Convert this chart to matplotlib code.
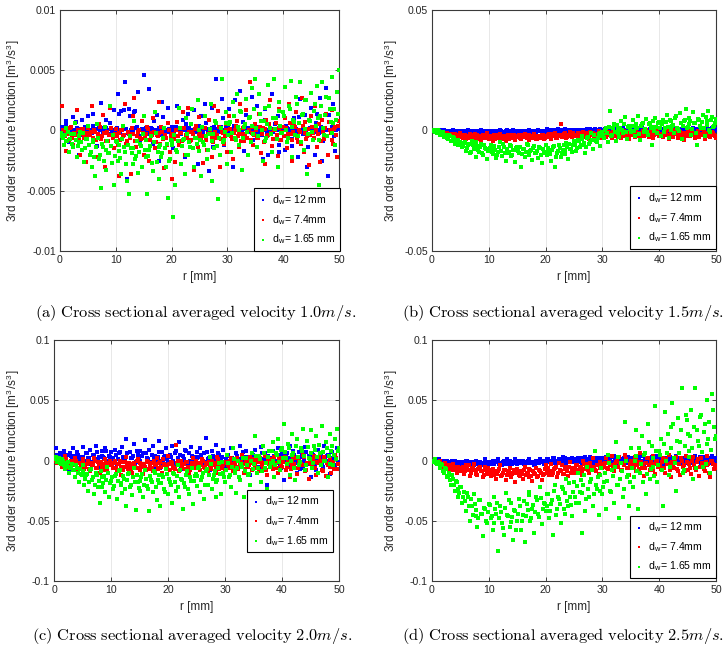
import numpy as np
import matplotlib.pyplot as plt

plt.rcParams["font.family"] = ["Liberation Sans", "DejaVu Sans"]
plt.rcParams["mathtext.fontset"] = "cm"

# ==========================
# DATA
# two sample sets per series, interleaved on a 1/6 mm grid
# ==========================
r_mm = np.arange(1, 151) / 3.0
r_mm2 = (np.arange(1, 151) - 0.5) / 3.0

# (a) 1.0 m/s, values in 1e-4 m^3/s^3
a_12 = [3, -2, 8, 1, -10, 0, 11, -1, 2, -20, 1, 9, -3, 0, 12,
        0, -2, 14, 1, -13, 3, 23, -1, 0, 2, -19, 6, -1, 17, 0,
        30, -2, 16, 1, 40, -40, 18, 0, -3, 15, 2, 32, -8, 1, 46,
        0, -2, 34, 2, -11, 0, 13, -25, 1, 24, -2, 0, 19, -1, 3,
        -15, 1, 20, 0, -3, 9, -22, 2, 14, 0, -1, 17, 2, -28, 0,
        12, -2, 22, 1, -34, 0, 19, 3, 43, -1, 0, 26, -12, 2, -3,
        18, 0, -30, 25, 1, -2, 33, 0, -17, 13, 2, -1, 28, -8, 0,
        20, -3, 1, -24, 18, 0, -20, 2, 30, -54, 1, 12, -18, 0, 15,
        -16, 2, 22, 0, -13, 10, 1, -22, 26, 0, -2, 13, -30, 1, 19,
        2, -20, 14, 0, 27, -25, 1, 35, -38, 0, 3, 22, -17, 1, 8]
a_12_2 = [1, -1, 0, 5, -3, 2, -1, 0, 7, -2, 1, -4, 0, 3, -1,
          -2, 0, 4, -1, 1, -6, 0, 2, -1, 9, 0, -3, 1, 0, -2,
          2, 14, -1, 0, 17, 1, -2, 12, 0, -1, 16, 3, -5, 0, 1,
          -1, 2, 0, -3, 1, 8, -1, 0, 2, -4, 11, 0, -1, 1, -2,
          1, -1, 3, 0, -2, 1, 0, 5, -1, 2, -8, 0, 1, -1, 4,
          0, -3, 1, 6, -1, 0, 2, -14, 1, 0, -1, 3, 10, 0, -2,
          2, -1, 0, 4, -6, 1, 0, -2, 7, 1, -1, 0, -9, 2, 1,
          -1, 3, 0, -4, 1, 9, -2, 0, 1, -1, 5, 0, -12, 2, -1,
          0, 4, -2, 1, -7, 0, 2, -1, 11, 0, -3, 1, 0, -14, 2,
          1, -1, 6, 0, -2, 3, -9, 1, 0, 13, -1, 2, -5, 0, 1]
a_74 = [20, -5, -17, 0, -8, 3, -12, -2, 17, -4, -20, 1, -6, -26, 2,
        -3, 20, -10, -1, -22, 5, -7, 13, -30, -2, -9, 19, -4, -15, 1,
        -12, -38, 0, -5, 22, -9, -3, -36, 12, 27, -14, -1, -6, 8, -20,
        -8, 3, -25, -2, 10, -15, -4, 24, -11, -1, -31, -6, 6, -18, -40,
        -3, -26, 7, -12, -2, 15, -20, -5, 19, -9, -1, -33, 4, -14, 11,
        -7, -27, 2, -16, 9, -3, -22, 20, -6, 16, -30, -1, -11, 5, -18,
        12, -5, -24, 0, 8, -14, 22, -3, -9, 17, -20, 40, -2, -12, 5,
        -6, 14, -19, 2, -28, 9, -4, 25, -13, 0, 6, -21, 18, -8, 3,
        10, -15, 22, -3, -25, 4, 15, -10, -1, 27, -18, 7, -5, -29, 12,
        -2, 20, -14, 5, -26, 9, -7, 14, -20, 0, 17, -11, 3, -22, 8]
a_74_2 = [-2, 0, -5, -1, -3, 2, -6, -2, -4, 0, -7, -3, 1, -5, -2,
          -4, -1, -6, 0, -8, -3, 3, -5, -2, -9, -1, -4, 2, -6, -3,
          -5, -2, -8, 0, -4, -11, -1, -6, 2, -3, -9, -5, 0, -7, -2,
          -6, -3, 1, -8, -4, -1, -10, -5, -2, 3, -7, -4, -12, 0, -5,
          -3, -7, 0, -5, -2, -9, 2, -4, -6, -1, -8, -3, 1, -6, -4,
          -2, -5, 2, -8, -3, 0, -6, -10, -1, -4, 3, -7, -2, -5, 0,
          -4, 1, -7, -2, 4, -5, -1, -9, 2, -3, -6, 0, -8, 3, -4,
          0, -6, 3, -3, -10, 1, -5, 5, -2, -7, 0, -4, 2, -8, -1,
          -5, 2, -3, 6, -8, -1, 3, -6, 0, -11, 4, -2, -7, 1, -4,
          3, -6, 0, -3, 5, -9, -1, 2, -5, 7, -2, -8, 1, -4, 4]
a_165 = [-5, -12, 2, -9, -18, -3, -14, 6, -22, -10, -1, -16, -26, -7, 4,
         -20, -30, -10, -38, 5, -24, -48, -14, 3, -33, -19, 20, -27, -45, -9,
         -25, -12, -36, 4, -18, -42, -53, -15, -28, 8, -21, -35, -11, -30, 12,
         -22, -53, -16, -5, -34, 15, -26, -40, -12, -19, 2, -30, -56, -24, -9,
         -72, -45, -18, 19, -28, -8, -36, 10, -20, -14, 18, -30, -6, 25, -17,
         -38, -10, 12, -24, -3, 22, -42, -15, 6, -57, -20, 43, -8, 15, -28,
         5, -18, 24, -6, 30, -12, 16, -33, 3, 26, -20, 11, 35, -3, 43,
         -14, 30, 8, -25, 19, -6, 38, 2, -18, 43, 10, -30, 24, -2, 15,
         36, -10, 20, 41, -22, 7, 28, -5, 40, 13, -16, 25, -36, 9, 31,
         -8, 22, 37, -45, 12, 40, -4, 28, -50, 18, 44, 6, -12, 32, 50]
a_165_2 = [-2, -6, -4, -9, -1, -7, -11, -3, -8, -13, -5, -10, -2, -15, -7,
           -12, -18, -8, -22, -14, -6, -20, -11, -25, -16, -9, -19, -13, -4, -21,
           -10, -17, -23, -7, -14, -28, -12, -5, -19, -15, -24, -9, -18, -13, -3,
           -16, -8, -21, -13, -27, -10, -2, -18, -14, -22, -6, -15, -11, -25, -8,
           -12, -4, -16, -9, 2, -13, -7, -20, -3, -10, 5, -15, -6, -11, 0,
           -8, 3, -12, -5, -16, 1, -9, -3, 8, -13, -6, 2, -10, -1, 6,
           -4, 7, -2, 12, -8, 3, 0, 15, -6, 5, -1, 10, -10, 4, 18,
           2, -5, 14, 0, 8, -9, 5, 20, -3, 10, 1, -7, 16, 4, -2,
           12, 0, -6, 18, 3, 9, -4, 22, 6, -10, 14, 1, 25, -3, 8,
           -1, 16, 4, 10, -8, 20, 2, 13, -5, 27, 7, -2, 18, 9, 14]

# (b) 1.5 m/s, values in 1e-4 m^3/s^3
b_12 = [0, -2, 3, -4, 1, -6, -2, -8, -3, -5, 2, -7, -4, -1, -9,
        -5, -3, -8, 0, -6, -10, -4, -2, -7, -5, 1, -9, -3, -6, -4,
        -7, -2, -5, -10, -3, 2, -6, -8, -4, -1, -9, -5, 3, -7, -3,
        -4, -8, -1, -6, -3, 1, -9, -5, -2, -7, 0, -4, -8, -2, -5,
        4, -3, -1, 2, -5, 0, 3, -4, -2, 6, -1, -6, 1, -3, 2,
        -2, 3, 0, -5, 2, -1, 5, -3, 1, -4, 4, 0, -2, 6, -1,
        2, -3, 7, 0, -5, 3, -1, 5, -4, 1, 8, -2, 3, -6, 0,
        4, -2, 6, -5, 1, 8, -3, 2, -7, 5, 0, -4, 7, -1, 3,
        -3, 6, 1, -8, 4, 0, 9, -2, 5, -6, 2, 7, -4, 1, -9,
        5, -2, 8, 0, -6, 3, 10, -4, 1, 6, -8, 2, 9, -3, 4]
b_12_2 = [-1, 0, -3, 1, -2, -4, 0, -3, -6, -1, -4, -2, -7, -3, -5,
          -3, -7, -2, -5, -8, -1, -4, -6, -3, -9, -2, -5, -7, -4, -1,
          -5, -3, -8, -1, -6, -4, -2, -7, -5, 0, -6, -3, -8, -4, -2,
          -6, -1, -4, -7, -3, -5, 0, -6, -3, -8, -2, -4, -1, -5, -3,
          -1, 2, -3, 0, 1, -2, 4, -1, 0, -4, 2, 0, -2, 3, -1,
          1, -2, 0, 3, -1, 2, -3, 0, 4, -2, 1, -1, 3, 0, -2,
          0, 4, -1, 2, -3, 1, 5, -2, 0, 3, -4, 1, -1, 4, -2,
          1, -3, 2, 5, -1, 0, -4, 3, 1, -2, 6, 0, -3, 2, -1,
          3, -1, 0, 5, -4, 2, -2, 6, 0, -3, 1, 4, -5, 2, 0,
          -1, 4, 1, -3, 6, 0, -2, 3, -5, 2, 0, 7, -1, -4, 3]
b_74 = [-2, -5, -1, -8, -12, -6, -18, -10, -22, -14, -25, -16, -30, -20, -12,
        -28, -18, -35, -22, -14, -40, -25, -32, -17, -27, -38, -20, -30, -12, -34,
        -24, -42, -19, -31, -26, -15, -36, -28, -44, -21, -33, -18, -29, -38, -25,
        -20, -35, -27, -14, -32, -40, -22, -29, -16, -37, -25, -30, -18, -34, -23,
        -28, -15, -36, -22, -10, -31, -19, 25, -26, -12, -33, -20, -8, -29, -17,
        -24, -11, -30, -18, -5, -26, -14, -35, -20, -9, -28, -16, -3, -32, -21,
        -13, -27, -6, -20, -33, -10, -24, 2, -17, -30, -8, -22, -14, -36, -4,
        -19, -28, -7, -15, -34, -11, -23, 0, -18, -26, -9, -31, -13, -5, -22,
        -16, -29, -4, -20, -35, -10, -25, 3, -14, -30, -8, -21, -38, -12, -2,
        -24, -7, -18, -32, -11, -27, 4, -15, -36, -9, -20, -28, -5, -17, -30]
b_74_2 = [-1, -3, -6, -4, -9, -7, -13, -10, -16, -19, -14, -22, -18, -26, -21,
          -24, -30, -19, -26, -33, -21, -28, -16, -31, -25, -35, -22, -27, -18, -29,
          -32, -23, -27, -36, -20, -30, -25, -33, -22, -28, -34, -24, -31, -19, -27,
          -26, -31, -20, -28, -24, -33, -18, -27, -30, -22, -35, -25, -29, -21, -32,
          -24, -20, -29, -16, -25, -31, -22, -18, -27, -14, -23, -28, -19, -25, -12,
          -18, -22, -9, -26, -15, -20, -12, -24, -7, -19, -25, -13, -17, -10, -23,
          -16, -8, -21, -12, -25, -5, -18, -14, -27, -10, -19, -3, -15, -22, -11,
          -20, -6, -14, -24, -10, -17, -2, -21, -13, -28, -8, -16, -19, -4, -12,
          -18, -25, -9, -14, 0, -21, -12, -27, -7, -16, -3, -20, -11, -24, -15,
          -10, -22, -6, -17, -26, -2, -13, -19, -8, -23, -14, 1, -18, -11, -25]
b_165 = [2, -3, 0, -8, -15, -5, -22, -30, -18, -45, -28, -55, -38, -62, -48,
         -70, -52, -85, -60, -95, -45, -78, -110, -65, -90, -55, -100, -72, -120, -82,
         -60, -98, -75, -115, -88, -50, -105, -70, -125, -92, -62, -108, -80, -130, -68,
         -95, -150, -78, -110, -58, -100, -85, -122, -66, -92, -115, -74, -135, -88, -60,
         -104, -82, -128, -70, -150, -95, -62, -112, -80, -98, -52, -118, -76, -90, -45,
         -85, -40, -70, -22, -62, -95, -30, -55, -10, -78, -38, -48, -15, -66, -5,
         -32, 12, -50, 80, -20, 25, -45, 5, -28, 38, -12, 55, -36, 18, -8,
         42, -25, 10, 60, -40, 28, -5, 48, -18, 32, -60, 15, 52, -10, 35,
         -22, 45, 8, 65, -30, 38, 20, -12, 58, 5, 72, -35, 40, 90, 15,
         50, -18, 75, 30, -60, 45, 10, 62, -25, 38, 82, -8, 55, 20, 48]
b_165_2 = [-1, -5, -10, -4, -18, -12, -26, -20, -35, -25, -42, -32, -50, -40, -58,
           -55, -65, -48, -75, -58, -88, -62, -70, -50, -82, -68, -92, -60, -76, -86,
           -72, -90, -64, -82, -100, -70, -86, -58, -94, -78, -88, -66, -102, -80, -74,
           -84, -70, -98, -76, -90, -62, -104, -82, -72, -95, -86, -68, -100, -78, -92,
           -88, -72, -96, -80, -66, -110, -85, -74, -92, -60, -84, -70, -55, -78, -62,
           -58, -72, -45, -60, -35, -52, -68, -28, -48, -38, -20, -42, -30, -12, -25,
           -18, 2, -10, 15, -25, 8, -5, 22, -12, 10, 0, 28, -8, 14, 5,
           18, -2, 25, 8, -15, 20, 32, 4, -6, 26, 12, 38, -3, 16, 30,
           10, 28, -8, 35, 15, 42, 2, 22, 50, 12, -4, 32, 20, 45, 8,
           25, 40, 6, 30, -10, 48, 18, 35, 10, 55, 22, 0, 42, 15, 30]

# (c) 2.0 m/s, values in 1e-3 m^3/s^3
c_12 = [10, 2, 6, -3, 8, 0, 5, -8, 4, 10, -2, 7, 1, 3, 11,
        -4, 6, 2, 9, -1, 5, 12, 0, -6, 8, 3, 10, -2, 4, 7,
        1, 9, -3, 6, 0, 11, 3, 18, -5, 7, 2, 14, -1, 5, 8,
        -4, 6, 17, 2, 9, -2, 12, 4, 0, 16, -6, 7, 3, 10, -1,
        5, 12, -3, 8, 1, 15, -7, 4, 9, -2, 6, 11, 0, -5, 7,
        3, 10, -4, 6, 19, 1, -8, 8, 2, 13, -3, 5, 0, 9, -6,
        4, -2, 10, 1, -9, 6, 0, 12, -4, 3, 8, -1, -12, 5, 2,
        9, -5, 3, 11, -2, 6, -20, 1, 8, -7, 4, 0, 10, -3, 6,
        -16, 5, 2, 12, -4, 8, 0, -10, 7, 3, -6, 11, -2, 4, -14,
        6, 1, -8, 9, 3, -3, 12, 0, 5, -11, 7, 2, -5, 10, -1]
c_12_2 = [2, 5, 0, 4, 1, 7, 3, -1, 6, 2, 4, 0, 5, 3, -2,
          3, 0, 6, 2, -3, 5, 1, 7, 3, -1, 4, 2, 8, 0, 3,
          2, -2, 5, 1, 7, -1, 3, 0, 6, -4, 2, 4, -2, 8, 1,
          0, 4, -3, 6, 1, -1, 5, 2, -5, 3, 7, 0, -2, 4, 1,
          -1, 3, 0, 6, -4, 2, 5, -2, 1, 8, -3, 0, 4, -1, 3,
          2, -3, 5, 0, -1, 7, 2, -5, 4, 1, -2, 6, 0, 3, -4,
          1, 5, -3, 2, 0, -6, 4, 1, -2, 7, 0, 3, -4, 1, 5,
          -2, 3, 0, -5, 6, 1, -1, 4, -3, 2, 8, -2, 0, 5, -6,
          3, -1, 6, 0, -4, 2, 5, -2, 1, -7, 4, 0, 7, -3, 2,
          0, 5, -3, 2, -1, 6, -5, 1, 4, -2, 0, 7, -4, 2, -1]
c_74 = [3, -2, 1, -5, -1, 4, -3, -6, 0, -4, 2, -8, -2, -5, 1,
        -7, -3, 0, -9, -4, 2, -6, -1, -10, -3, -5, 1, -8, -2, -4,
        -6, 0, -9, -3, -12, -1, -5, 3, -7, -4, -10, -2, -6, 1, -8,
        -3, -11, -5, 0, -7, -2, -9, -4, 2, -6, -1, -10, -3, -5, 4,
        -8, -2, -6, 13, -4, -9, 0, -3, -7, -1, -11, -5, 2, -6, -3,
        -4, -8, 1, -5, -2, -9, -6, 0, -3, -10, 3, -7, -1, -4, -8,
        -2, -6, 2, -9, -4, 1, -7, -3, 5, -10, -1, -5, 3, -8, 0,
        -4, 2, -9, -1, -6, 4, -12, -3, 1, -7, 3, -2, -10, 0, -5,
        2, -8, -1, -14, -4, 3, -6, -11, 0, -3, 5, -9, -2, -15, 1,
        -5, 4, -12, -2, 0, -8, 3, -13, -4, 1, -10, -1, 5, -7, -3]
c_74_2 = [0, -2, 2, -3, -1, -4, 1, -2, -5, -1, -3, 0, -6, -2, -4,
          -1, -5, -3, -7, -2, -4, 0, -6, -3, -1, -5, -8, -2, -4, 0,
          -4, -2, -6, -3, 0, -5, -8, -1, -4, -2, -7, -3, -5, 0, -6,
          -2, -5, -3, -8, -1, -4, -6, 0, -3, -7, -2, -5, 1, -4, -6,
          -3, -1, -5, -7, -2, 0, -4, -6, -3, -1, -5, -8, -2, -4, 0,
          -5, -2, -4, 0, -6, -3, -1, -7, -4, -2, -5, 1, -3, -6, -2,
          -1, -4, 0, -3, -6, -2, 2, -5, -1, -3, -7, 0, -4, -2, 1,
          -3, -6, -1, 2, -4, -2, -8, 0, -3, -5, 1, -2, -6, 2, -4,
          -1, 3, -5, -2, -7, 0, -3, 2, -6, -1, -4, 3, -8, -2, 0,
          -3, 1, -6, -1, 3, -4, -9, 0, -2, 4, -5, -1, -7, 2, -3]
c_165 = [3, 0, -2, 1, -4, -7, -3, -10, -5, -8, -14, -6, -18, -11, -4,
         -20, -12, -25, -8, -16, -28, -10, -22, -35, -14, -19, -26, -5, -30, -17,
         -24, -13, -32, -9, -20, -27, -15, -38, -11, -22, -29, -6, -41, -18, -25,
         -14, -30, -8, -21, -42, -16, -26, -10, -33, -19, -38, -12, -24, -7, -28,
         -18, -35, -11, -25, -4, -30, -15, -40, -22, -9, -28, -17, -36, -13, -21,
         -6, -26, -14, -32, -9, -20, 3, -24, -12, -30, -16, -2, -28, -10, -18,
         5, -14, -22, 10, -8, -27, 0, -16, -5, -30, 2, -12, -20, 6, -3,
         20, -10, 4, -18, 12, -6, -24, 8, -2, 15, -14, 6, 18, -8, 10,
         30, 2, 14, -12, 22, 6, -16, 18, -4, 10, 26, -8, 16, 2, 25,
         -6, 12, 20, -10, 6, 29, 0, 15, -14, 22, 8, -4, 18, 26, 10]
c_165_2 = [1, -1, 2, -3, 0, -2, -5, -1, -6, -3, -8, -4, -10, -7, -12,
           -9, -15, -11, -18, -7, -14, -20, -12, -17, -9, -22, -13, -16, -10, -19,
           -14, -21, -11, -17, -8, -19, -13, -24, -16, -10, -20, -14, -18, -12, -23,
           -17, -11, -20, -15, -24, -13, -18, -9, -22, -16, -12, -19, -14, -26, -11,
           -15, -20, -10, -18, -13, -22, -8, -16, -19, -12, -24, -14, -6, -17, -11,
           -13, -5, -16, -10, -20, -7, -12, -3, -15, -9, -18, -6, -11, -1, -14,
           -8, -2, -12, -5, 1, -10, -6, -14, -3, 2, -9, -4, -11, 0, -7,
           -3, 4, -6, 1, -9, 6, -2, 3, -5, 8, 0, -4, 5, -1, 9,
           2, 7, -3, 10, 0, 5, -6, 12, 3, -1, 8, 4, -4, 11, 1,
           6, -2, 9, 3, 13, -4, 7, 0, 10, 4, -3, 12, 5, 1, 8]

# (d) 2.5 m/s, values in 1e-3 m^3/s^3
d_12 = [0, -1, 1, -2, 0, -1, -3, 0, -2, -1, -3, 0, -2, -1, -3,
        -1, -2, 0, -3, -1, -2, -4, 0, -2, -1, -3, -2, 1, -1, -3,
        -2, 0, -3, -1, 1, -2, -4, 0, -1, -3, 0, -2, -1, 1, -3,
        -1, -2, 0, -3, -1, 1, -2, -1, -4, 0, -2, 1, -1, -3, 0,
        1, -1, 0, 2, -2, 0, 1, -1, 3, 0, -2, 1, -1, 2, 0,
        -1, 2, 0, -2, 1, 3, -1, 0, 2, -3, 1, 0, -1, 2, -2,
        0, 3, -2, 1, -1, 4, 0, -3, 2, -1, 1, 3, -2, 0, 2,
        -2, 1, 3, -1, 0, 4, -3, 2, 0, -2, 3, -1, 1, 4, -2,
        1, -3, 2, 0, 3, -2, 1, -1, 4, 0, -3, 2, -1, 3, 0,
        -2, 2, 0, 4, -1, 1, -3, 3, 0, -2, 2, -1, 4, 0, -3]
d_12_2 = [-1, 0, -2, 1, -1, -2, 0, -1, -3, -2, 0, -1, -3, -2, -1,
          -2, -3, -1, 0, -2, -3, -1, -2, 0, -3, -1, -2, -4, -1, -2,
          -1, -3, -2, 0, -1, -3, -2, -1, -3, 1, -2, -1, -3, -2, 0,
          -2, 0, -1, -3, -2, 0, -1, -2, -1, -3, 0, -2, -1, 0, -2,
          0, 1, -1, 0, 2, -1, 0, 1, -2, 0, 2, -1, 1, 0, -1,
          1, 0, -1, 2, 0, -2, 1, 0, 3, -1, 0, 2, -1, 1, 0,
          2, -1, 1, 0, 3, -1, 2, 0, -2, 1, 0, 2, -1, 3, 1,
          0, 2, -1, 1, 3, -2, 0, 1, 2, -1, 0, 3, -1, 1, 0,
          2, 0, -1, 1, 0, 3, -2, 0, 1, 2, -1, 0, 2, -2, 1,
          0, 1, -2, 2, 0, -1, 3, 1, -1, 0, 2, -2, 1, 0, 2]
d_74 = [0, -1, -2, 0, -3, -5, -2, -6, -4, -8, -3, -7, -10, -5, -9,
        -6, -11, -4, -8, -13, -7, -3, -10, -12, -6, -9, -14, -5, -11, -8,
        -13, -7, -10, -15, -9, -4, -12, -8, -16, -11, -6, -14, -10, -18, -7,
        -12, -9, -15, -5, -11, -14, -8, -17, -10, -6, -13, -9, -16, -11, -4,
        -8, -12, -3, -10, -6, -14, -2, -9, -11, -5, -7, -13, -1, -8, -10,
        -4, -9, -6, -12, 0, -7, -3, -10, -5, 2, -8, -4, -11, -1, -6,
        -3, 2, -7, -4, 4, -9, -1, -5, 3, -8, -2, 5, -6, -12, 0,
        -4, 3, -9, -1, 6, -6, -13, -2, 2, -8, -3, 4, -11, 0, -5,
        -7, 2, -10, -3, 5, -14, -1, -6, 3, -9, -12, 0, -4, 4, -8,
        -2, -11, 3, -6, -1, -13, 2, -5, -9, 4, -3, -14, 0, -7, -4]
d_74_2 = [-1, 0, -1, -3, -2, -4, -3, -5, -7, -4, -6, -8, -5, -7, -6,
          -8, -5, -9, -7, -4, -10, -6, -8, -11, -7, -5, -9, -12, -8, -6,
          -10, -8, -12, -9, -11, -7, -13, -10, -8, -12, -9, -14, -11, -8, -10,
          -9, -13, -11, -8, -12, -10, -7, -13, -9, -11, -14, -8, -10, -12, -7,
          -10, -6, -9, -12, -7, -5, -10, -8, -4, -11, -7, -9, -5, -10, -6,
          -7, -4, -8, -5, -9, -3, -6, -8, -2, -7, -5, -9, -4, -6, -3,
          -5, -2, -6, -1, -4, -7, -3, 0, -5, -2, -8, -4, 1, -6, -3,
          -2, -5, 1, -4, -7, -1, -3, -6, 2, -4, -1, -8, -3, 0, -5,
          -4, -1, -6, 1, -3, -8, -2, -5, 0, -7, -3, 2, -5, -9, -1,
          -3, -6, 0, -4, -8, 1, -5, -2, -7, -1, -4, -10, 0, -3, -6]
d_165 = [0, -2, -1, -5, -3, -9, -6, -14, -10, -20, -15, -25, -18, -30, -22,
         -35, -26, -42, -30, -50, -38, -28, -46, -55, -33, -44, -63, -40, -52, -36,
         -48, -58, -30, -44, -75, -38, -52, -62, -27, -46, -55, -35, -66, -42, -50,
         -32, -58, -45, -68, -36, -26, -50, -40, -60, -30, -44, -22, -53, -35, -42,
         -28, -48, -36, -62, -20, -40, -32, -52, -24, -44, -15, -38, -30, -46, -18,
         -35, -10, -26, -60, -20, -42, -5, -30, -15, -38, 8, -24, -45, -12, -28,
         -18, -40, 5, -25, -8, -35, 15, -20, -48, -2, -30, 32, -14, -38, 10,
         -22, 0, 25, -40, -10, 20, 5, -28, 30, -15, 12, -5, 45, -18, 8,
         18, -38, 40, 6, -12, 28, 48, 2, -25, 35, 15, 60, -8, 38, 22,
         8, 42, -15, 60, 25, 12, 38, -5, 30, 50, 18, -10, 55, 28, 20]
d_165_2 = [-1, 1, -3, -2, -6, -4, -10, -7, -13, -16, -12, -20, -17, -24, -27,
           -22, -30, -34, -27, -38, -32, -45, -36, -41, -48, -33, -44, -39, -50, -43,
           -37, -46, -52, -40, -35, -48, -43, -56, -39, -45, -33, -51, -47, -41, -58,
           -44, -38, -50, -34, -46, -41, -29, -48, -37, -43, -33, -47, -31, -40, -36,
           -38, -28, -42, -33, -25, -45, -30, -36, -22, -40, -27, -34, -19, -37, -26,
           -30, -21, -35, -16, -27, -12, -32, -24, -18, -8, -28, -20, -14, -25, -6,
           -22, -10, -17, -2, -26, -13, -5, -20, 3, -15, -9, -24, 0, -12, -18,
           -6, -14, 4, -9, 10, -3, -18, 6, -11, 15, -7, 2, -13, 8, -4,
           5, -8, 14, 0, 22, -5, 10, 30, -2, 16, 6, 25, -10, 12, 34,
           3, 20, 10, 28, -6, 16, 36, 7, 24, -3, 14, 32, 9, 42, 18]

labels = [r"d$_{\mathregular{w}}$= 12 mm", r"d$_{\mathregular{w}}$= 7.4mm",
          r"d$_{\mathregular{w}}$= 1.65 mm"]
colors = ["#0000FF", "#FF0000", "#00FF00"]

panels = [
    dict(series=[(a_12, a_12_2), (a_74, a_74_2), (a_165, a_165_2)], scale=1e-4,
         lim=0.01, yticks=[-0.01, -0.005, 0, 0.005, 0.01],
         yticklabels=["-0.01", "-0.005", "0", "0.005", "0.01"],
         rect=[0.0826, 0.611, 0.3843, 0.3736], leg=(1.003, 0.0),
         caption=r"$\mathrm{(a)\ Cross\ sectional\ averaged\ velocity\ 1.0}m/s\mathrm{.}$",
         cap_xy=(0.269, 0.509)),
    dict(series=[(b_12, b_12_2), (b_74, b_74_2), (b_165, b_165_2)], scale=1e-4,
         lim=0.05, yticks=[-0.05, 0, 0.05], yticklabels=["-0.05", "0", "0.05"],
         rect=[0.595, 0.611, 0.3912, 0.3736], leg=(1.0, 0.008),
         caption=r"$\mathrm{(b)\ Cross\ sectional\ averaged\ velocity\ 1.5}m/s\mathrm{.}$",
         cap_xy=(0.776, 0.509)),
    dict(series=[(c_12, c_12_2), (c_74, c_74_2), (c_165, c_165_2)], scale=1e-3,
         lim=0.1, yticks=[-0.1, -0.05, 0, 0.05, 0.1],
         yticklabels=["-0.1", "-0.05", "0", "0.05", "0.1"],
         rect=[0.0744, 0.0992, 0.3926, 0.3736], leg=(0.978, 0.119),
         caption=r"$\mathrm{(c)\ Cross\ sectional\ averaged\ velocity\ 2.0}m/s\mathrm{.}$",
         cap_xy=(0.264, 0.007)),
    dict(series=[(d_12, d_12_2), (d_74, d_74_2), (d_165, d_165_2)], scale=1e-3,
         lim=0.1, yticks=[-0.1, -0.05, 0, 0.05, 0.1],
         yticklabels=["-0.1", "-0.05", "0", "0.05", "0.1"],
         rect=[0.595, 0.0992, 0.3912, 0.3736], leg=(1.0, 0.012),
         caption=r"$\mathrm{(d)\ Cross\ sectional\ averaged\ velocity\ 2.5}m/s\mathrm{.}$",
         cap_xy=(0.776, 0.007)),
]

xticks = [0, 10, 20, 30, 40, 50]
r_all = np.concatenate([r_mm, r_mm2])

fig = plt.figure(figsize=(7.26, 6.45), dpi=100)

for p in panels:
    ax = fig.add_axes(p["rect"])
    for (v1, v2), col, lab in zip(p["series"], colors, labels):
        y = np.concatenate([v1, v2]) * p["scale"]
        ax.scatter(r_all, y, s=5, marker="s", color=col, linewidths=0,
                   label=lab, zorder=3)
    ax.set_xlim(0, 50)
    ax.set_ylim(-p["lim"], p["lim"])
    ax.set_xticks(xticks)
    ax.set_xticklabels([str(t) for t in xticks])
    ax.set_yticks(p["yticks"])
    ax.set_yticklabels(p["yticklabels"])
    ax.grid(True, color="#e4e4e4", linewidth=0.6, zorder=0)
    ax.tick_params(axis="both", direction="in", length=3, width=0.6,
                   labelsize=7.6, colors="#262626", top=True, right=True, pad=3)
    for spine in ax.spines.values():
        spine.set_linewidth(0.8)
        spine.set_color("#3a3a3a")
    ax.set_xlabel("r [mm]", fontsize=8.5, color="#262626", labelpad=4)
    ax.set_ylabel(r"3rd order structure function [m$^\mathregular{3}$/s$^\mathregular{3}$]",
                  fontsize=8.5, color="#262626", labelpad=3)
    leg = ax.legend(loc="lower right", bbox_to_anchor=p["leg"], borderaxespad=0,
                    fontsize=7.6, markerscale=0.7, handletextpad=0.5,
                    handlelength=0.7, labelspacing=0.55, fancybox=False,
                    framealpha=1, edgecolor="black", borderpad=0.45)
    leg.get_frame().set_linewidth(0.8)
    fig.text(p["cap_xy"][0], p["cap_xy"][1], p["caption"], ha="center",
             va="baseline", fontsize=11.8)

plt.savefig("out.png", dpi=100)
